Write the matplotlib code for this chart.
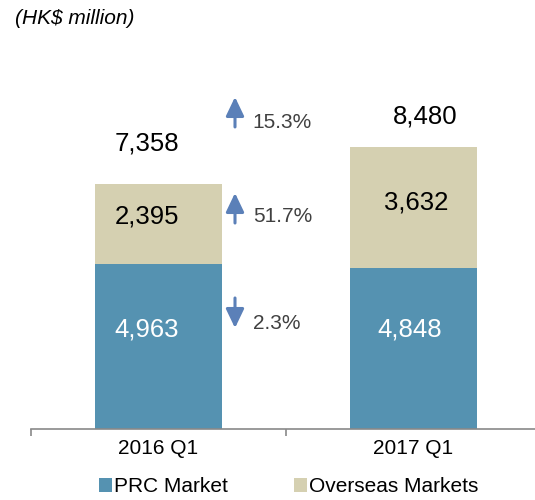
import numpy as np
import matplotlib.pyplot as plt

plt.rcParams['font.family'] = ['Liberation Sans', 'DejaVu Sans']

periods = ['2016 Q1', '2017 Q1']
prc = [4963, 4848]
overseas = [2395, 3632]
totals = [7358, 8480]
changes = ['15.3%', '51.7%', '2.3%']
change_dirs = [1, 1, -1]

c_prc = '#5592B1'
c_ovs = '#D5D0B1'
c_arrow = '#5B80B8'

# label placement tweaks (data units)
dx_lab = [[-0.047, -0.047, -0.047], [-0.016, 0.012, 0.047]]   # prc, overseas, total
dy_lab = [[494, 211, 1236], [551, 157, 896]]

fig = plt.figure(figsize=(5.35, 5.0), dpi=100)
ax = fig.add_axes((31/535, 1-429/500, 510/535, 0.72))
x = np.arange(len(periods))
ax.bar(x, prc, width=0.5, color=c_prc, label='PRC Market')
ax.bar(x, overseas, width=0.5, bottom=prc, color=c_ovs, label='Overseas Markets')
ax.set_xlim(-0.5, 1.5)
ax.set_ylim(0, 10818)

for i in range(len(x)):
    ax.text(x[i] + dx_lab[i][0], prc[i]/2 + dy_lab[i][0], f'{prc[i]:,}',
            ha='center', va='center', color='white', fontsize=18.5)
    ax.text(x[i] + dx_lab[i][1], prc[i] + overseas[i]/2 + dy_lab[i][1], f'{overseas[i]:,}',
            ha='center', va='center', color='black', fontsize=18.5)
    ax.text(x[i] + dx_lab[i][2], totals[i] + dy_lab[i][2], f'{totals[i]:,}',
            ha='center', va='center', color='black', fontsize=18.5)

# change indicators between the bars
arrow_spans = [(9977, 9076), (7092, 6190), (3937, 3035)]
text_y = [9225, 6371, 3185]
for (top, bot), ty, lab, d in zip(arrow_spans, text_y, changes, change_dirs):
    tip, tail = (top, bot) if d > 0 else (bot, top)
    ax.annotate('', xy=(0.3, tip), xytext=(0.3, tail),
                arrowprops=dict(arrowstyle='-|>,head_width=0.55,head_length=1.15',
                                color=c_arrow, lw=2.2, shrinkA=0, shrinkB=0, mutation_scale=10))
    ax.text(0.37, ty, lab, ha='left', va='center', color='#404040', fontsize=15)

for s in ['top', 'right', 'left']:
    ax.spines[s].set_visible(False)
ax.spines['bottom'].set_color('#898989')
ax.spines['bottom'].set_linewidth(1.2)
ax.set_yticks([])
ax.set_xticks([-0.5, 0.5, 1.5], minor=True)
ax.tick_params(axis='x', which='minor', length=5, width=1.2, color='#898989', direction='out')
ax.tick_params(axis='x', which='major', length=0, labelsize=15, pad=7)
ax.set_xticks(x)
ax.set_xticklabels(periods)

fig.text(15/535, 0.964, '(HK$ million)', fontsize=15, style='italic', ha='left', va='center')
fig.legend(loc='center', bbox_to_anchor=(0.54, 0.026), ncol=2, frameon=False, fontsize=15,
           handlelength=0.62, handleheight=0.62, handletextpad=0.1, columnspacing=3.2,
           borderpad=0.1)

fig.savefig('out.png', dpi=100)
